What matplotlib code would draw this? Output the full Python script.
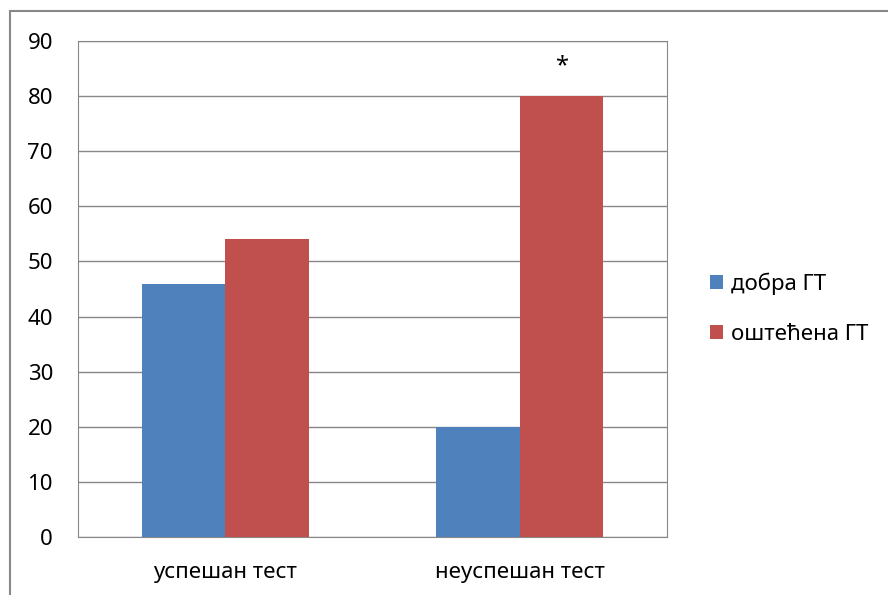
import matplotlib.pyplot as plt
import matplotlib.patches as mpatches
import numpy as np

plt.rcParams['font.family'] = ['Noto Sans', 'DejaVu Sans']

categories = ['успешан тест', 'неуспешан тест']
series_names = ['добра ГТ', 'оштећена ГТ']
good_vals = [46, 20]
damaged_vals = [54, 80]
colors = ['#4f81bd', '#c0504d']

fig = plt.figure(figsize=(8.88, 5.95), dpi=100)
ax = fig.add_axes([0.0878, 0.0975, 0.6633, 0.8335])

x = np.arange(len(categories))
w = 0.283
ax.bar(x - w / 2, good_vals, w, color=colors[0], label=series_names[0], zorder=3)
ax.bar(x + w / 2, damaged_vals, w, color=colors[1], label=series_names[1], zorder=3)

# significance mark
ax.text(x[1] + w / 2, damaged_vals[1] + 5.4, '*', ha='center', va='center', fontsize=17)

ax.set_xlim(-0.5, 1.5)
ax.set_ylim(0, 90)
ax.set_yticks(range(0, 91, 10))
ax.set_xticks(x)
ax.set_xticklabels(categories)
ax.yaxis.grid(True, color='#878787', linewidth=1, zorder=0)
ax.tick_params(length=0, labelsize=16, colors='black')
ax.tick_params(axis='y', pad=18)
ax.tick_params(axis='x', pad=18)
for s in ax.spines.values():
    s.set_color('#878787')

ax.legend(loc='center left', bbox_to_anchor=(1.073, 0.46), frameon=False,
          fontsize=16, handlelength=0.6, handleheight=0.6, handletextpad=0.35,
          labelspacing=1.3, borderaxespad=0, borderpad=0)

fig.patches.append(mpatches.Rectangle((0.0113, -0.05), 1.1, 0.05 + 0.9807,
                                      transform=fig.transFigure, fill=False,
                                      edgecolor='#888888', linewidth=1.5))

fig.savefig('out.png', dpi=100)
